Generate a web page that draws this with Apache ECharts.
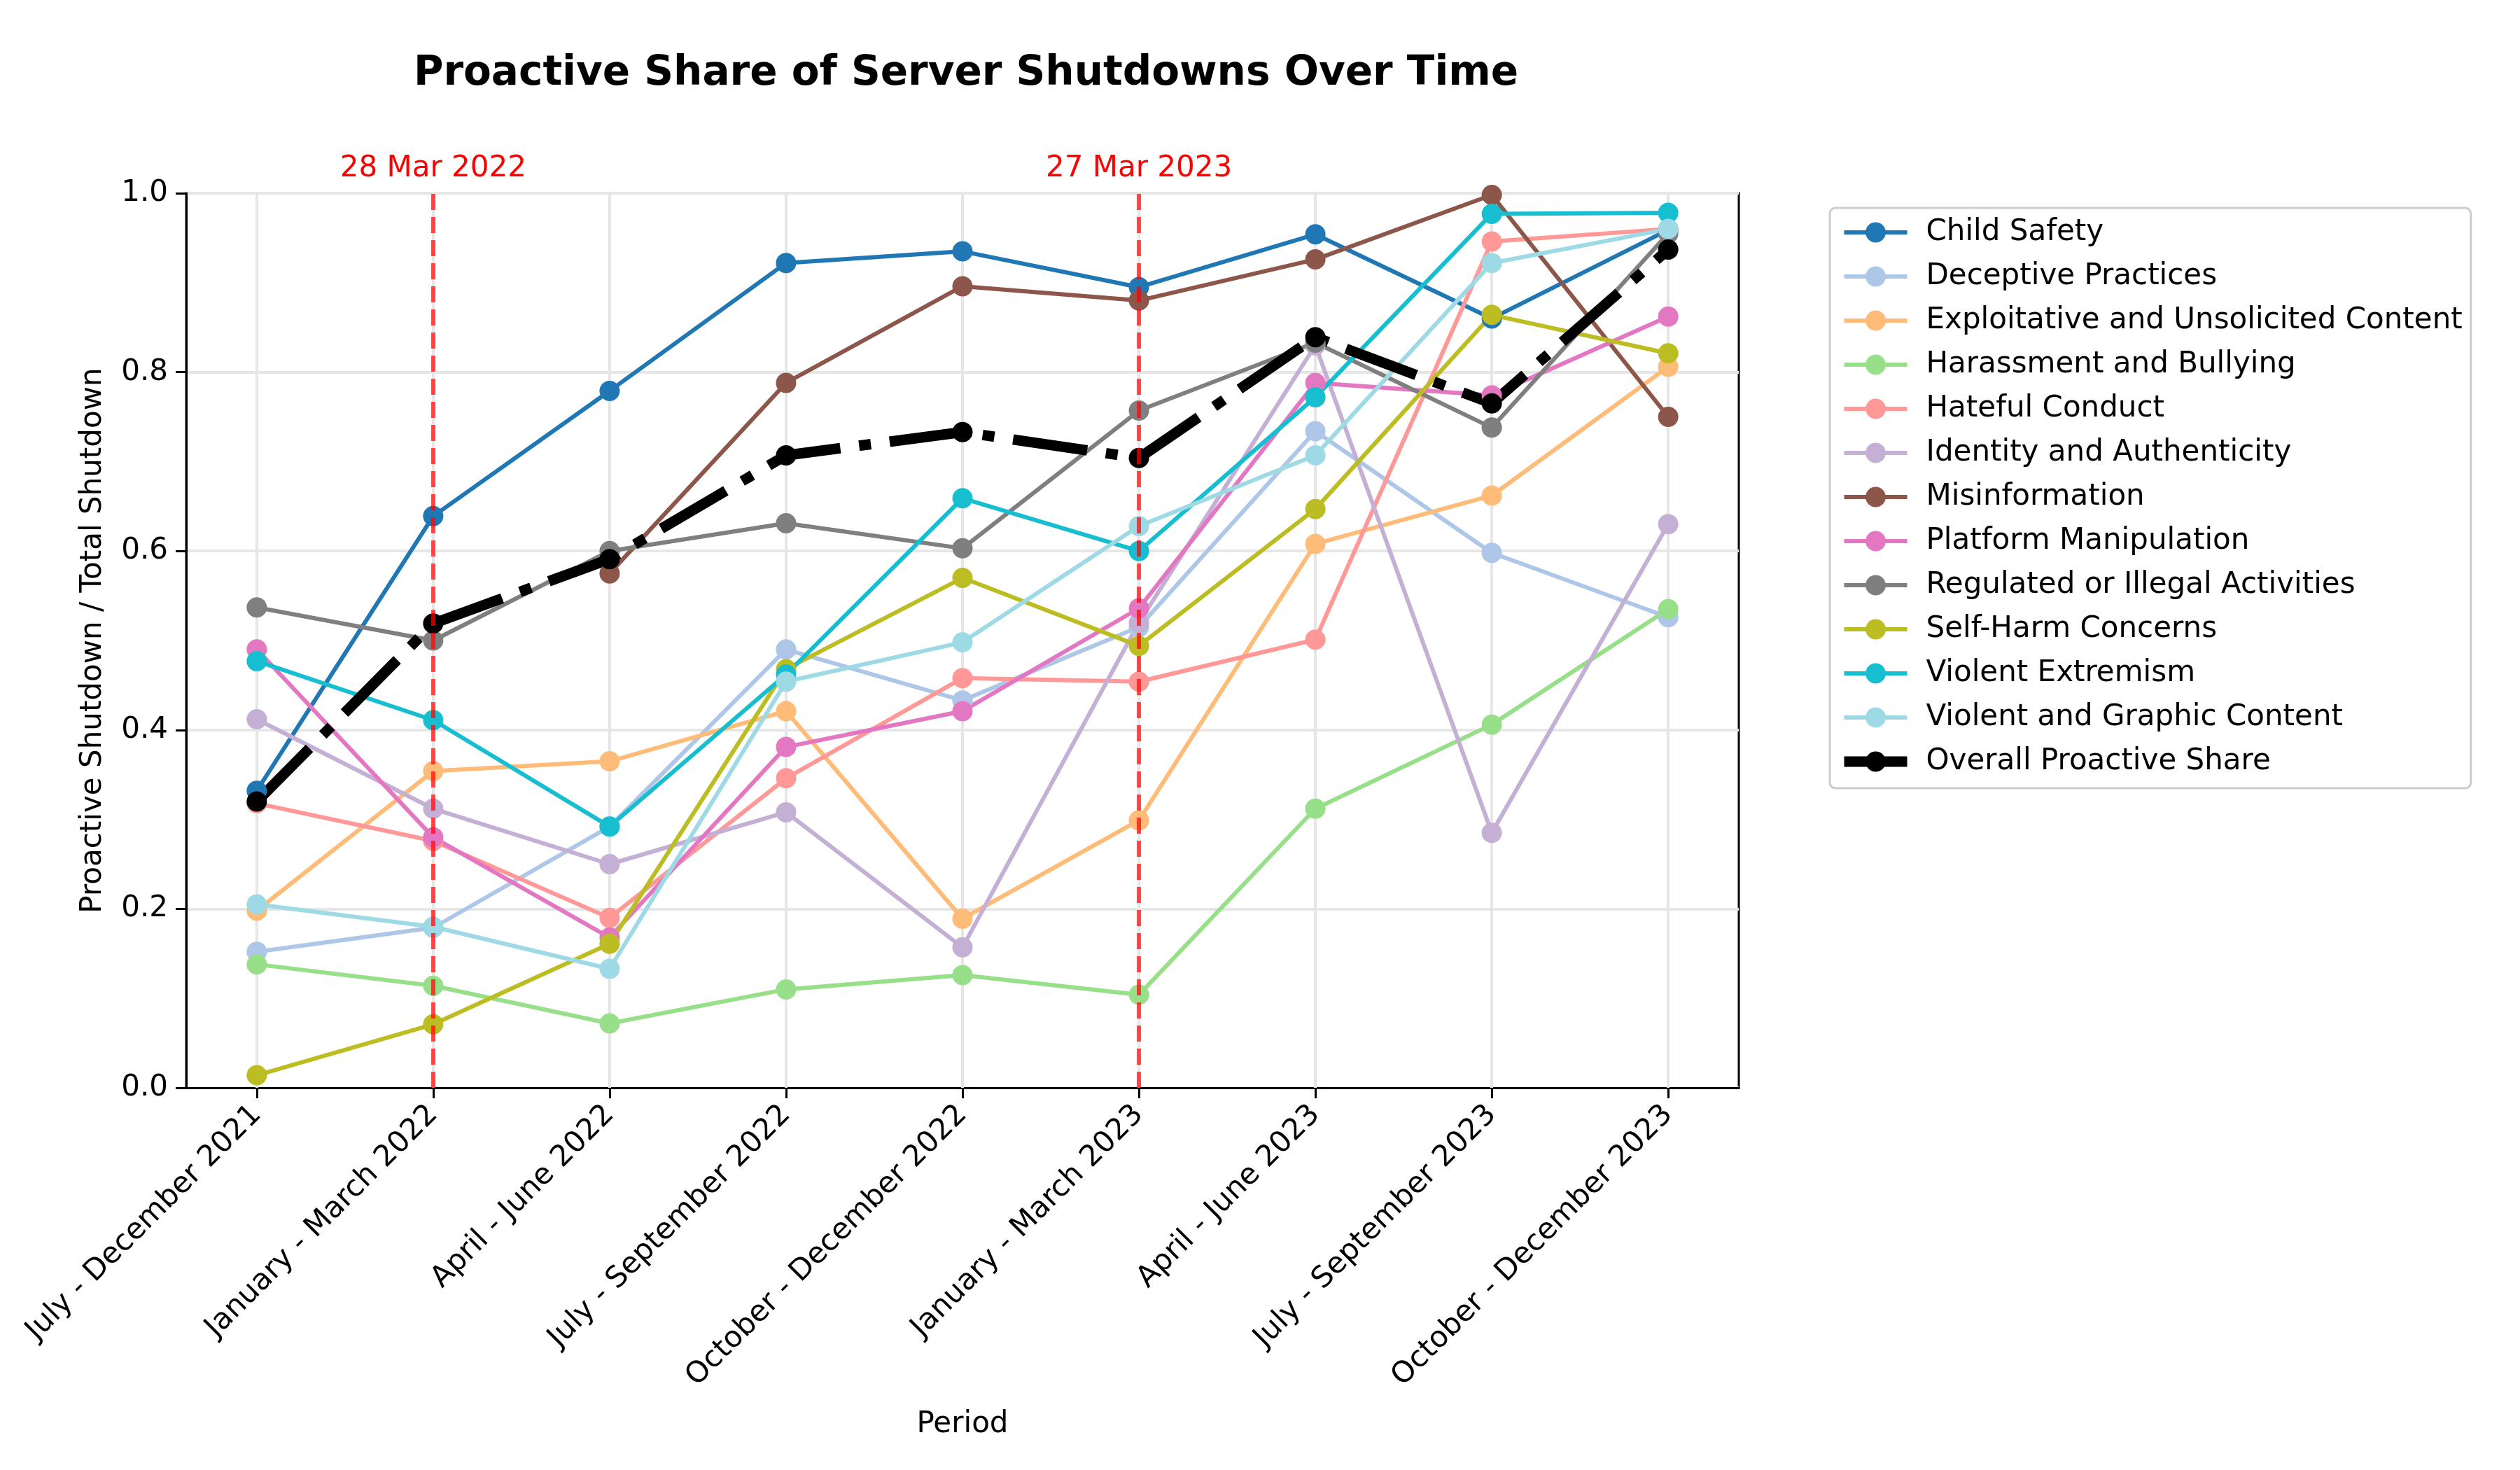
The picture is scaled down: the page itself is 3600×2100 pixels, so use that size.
<!DOCTYPE html>
<html>
<head>
<meta charset="utf-8">
<script src="https://cdn.jsdelivr.net/npm/echarts@6/dist/echarts.min.js"></script>
<style>
  html, body { margin: 0; padding: 0; background: #fff; }
  #chart { width: 3600px; height: 2100px; }
</style>
</head>
<body>
<div id="chart"></div>
<script>
// periods on the x axis
const periods = [
  'July - December 2021', 'January - March 2022', 'April - June 2022',
  'July - September 2022', 'October - December 2022', 'January - March 2023',
  'April - June 2023', 'July - September 2023', 'October - December 2023'
];

// proactive share per category
const childSafety    = [0.332, 0.639, 0.779, 0.922, 0.935, 0.895, 0.954, 0.860, 0.959];
const deceptive      = [0.152, 0.179, 0.292, 0.490, 0.433, 0.515, 0.734, 0.598, 0.526];
const exploitative   = [0.198, 0.354, 0.365, 0.421, 0.189, 0.299, 0.608, 0.662, 0.806];
const harassment     = [0.138, 0.114, 0.072, 0.110, 0.126, 0.104, 0.312, 0.406, 0.535];
const hateful        = [0.318, 0.276, 0.190, 0.346, 0.458, 0.454, 0.501, 0.946, 0.960];
const identity       = [0.412, 0.312, 0.250, 0.308, 0.157, 0.520, 0.830, 0.285, 0.630];
const misinformation = [null, null, 0.575, 0.788, 0.896, 0.880, 0.926, 0.998, 0.750];
const platform       = [0.490, 0.280, 0.168, 0.381, 0.421, 0.536, 0.788, 0.774, 0.862];
const regulated      = [0.537, 0.500, 0.600, 0.631, 0.603, 0.757, 0.833, 0.738, 0.955];
const selfHarm       = [0.014, 0.071, 0.161, 0.468, 0.570, 0.494, 0.647, 0.864, 0.821];
const violentExt     = [0.477, 0.411, 0.292, 0.462, 0.659, 0.600, 0.772, 0.977, 0.978];
const violentGraphic = [0.205, 0.180, 0.133, 0.454, 0.498, 0.628, 0.707, 0.922, 0.960];
const overall        = [0.320, 0.519, 0.591, 0.707, 0.733, 0.704, 0.839, 0.765, 0.937];

// policy change markers
const eventPositions = [1, 5];
const eventLabels = ['28 Mar 2022', '27 Mar 2023'];

const categories = [
  ['Child Safety', childSafety, '#1f77b4'],
  ['Deceptive Practices', deceptive, '#aec7e8'],
  ['Exploitative and Unsolicited Content', exploitative, '#ffbb78'],
  ['Harassment and Bullying', harassment, '#98df8a'],
  ['Hateful Conduct', hateful, '#ff9896'],
  ['Identity and Authenticity', identity, '#c5b0d5'],
  ['Misinformation', misinformation, '#8c564b'],
  ['Platform Manipulation', platform, '#e377c2'],
  ['Regulated or Illegal Activities', regulated, '#7f7f7f'],
  ['Self-Harm Concerns', selfHarm, '#bcbd22'],
  ['Violent Extremism', violentExt, '#17becf'],
  ['Violent and Graphic Content', violentGraphic, '#9edae5']
];

const idx = periods.map((p, i) => i);
const toPoints = arr => arr.map((v, i) => [i, v]);
const FONT = 'DejaVu Sans';

// vertical grid lines at each period (value axis with padded range)
const series = [{
  name: '_grid',
  type: 'line',
  data: [],
  z: 1,
  silent: true,
  markLine: {
    z: 1,
    silent: true,
    symbol: 'none',
    label: { show: false },
    lineStyle: { color: '#e6e6e6', width: 4, type: 'solid' },
    data: idx.map(i => ({ xAxis: i }))
  }
}];

categories.forEach(([name, vals, color], k) => {
  series.push({
    name: name,
    type: 'line',
    data: toPoints(vals),
    connectNulls: false,
    symbol: 'circle',
    symbolSize: 29,
    color: color,
    lineStyle: { width: 6, color: color },
    itemStyle: { color: color },
    emphasis: { disabled: true },
    markLine: k === 0 ? {
      silent: true,
      symbol: 'none',
      lineStyle: { color: 'rgba(255,0,0,0.7)', width: 6, type: [23, 10] },
      label: {
        show: true, position: 'end', distance: 14,
        color: '#ff0000', fontSize: 42, fontFamily: FONT,
        formatter: p => eventLabels[eventPositions.indexOf(p.value)]
      },
      data: eventPositions.map(x => ({ xAxis: x }))
    } : undefined
  });
});

series.push({
  name: 'Overall Proactive Share',
  type: 'line',
  data: toPoints(overall),
  symbol: 'circle',
  symbolSize: 29,
  color: '#000',
  lineStyle: { width: 15, color: '#000', type: [107, 27, 17, 27], cap: 'butt' },
  itemStyle: { color: '#000' },
  emphasis: { disabled: true }
});

const legendData = categories.map(([name, , color]) => ({
  name: name,
  lineStyle: { width: 6, color: color, type: 'solid' }
}));
legendData.push({ name: 'Overall Proactive Share', lineStyle: { width: 15, color: '#000', type: 'solid' } });

const chart = echarts.init(document.getElementById('chart'), null, { renderer: 'canvas' });
chart.setOption({
  animation: false,
  backgroundColor: '#fff',
  textStyle: { fontFamily: FONT },
  title: {
    text: 'Proactive Share of Server Shutdowns Over Time',
    left: 1375,
    textAlign: 'center',
    top: 72,
    textStyle: { fontSize: 58, fontWeight: 'bold', color: '#000', fontFamily: FONT }
  },
  grid: {
    left: 266, right: 1116, top: 276, bottom: 546,
    show: true, borderColor: '#000', borderWidth: 3, backgroundColor: 'transparent'
  },
  legend: {
    orient: 'vertical',
    left: 2614,
    top: 297,
    padding: [11, 12, 14, 13],
    itemWidth: 90,
    itemHeight: 36,
    itemGap: 15,
    borderColor: '#cccccc',
    borderWidth: 3,
    borderRadius: 8,
    textStyle: { fontSize: 42, color: '#000', fontFamily: FONT, lineHeight: 48, padding: [0, 0, 0, 22] },
    data: legendData
  },
  xAxis: {
    type: 'value',
    min: -0.4,
    max: 8.4,
    name: 'Period',
    nameLocation: 'middle',
    nameGap: 460,
    nameTextStyle: { fontSize: 42, color: '#000', fontFamily: FONT },
    axisLine: { show: true, onZero: false, lineStyle: { color: '#000', width: 3 } },
    axisTick: { show: true, inside: false, length: 15, lineStyle: { color: '#000', width: 3 }, customValues: idx },
    axisLabel: {
      customValues: idx,
      rotate: 45,
      margin: 32,
      fontSize: 42,
      color: '#000',
      fontFamily: FONT,
      formatter: v => periods[Math.round(v)]
    },
    splitLine: { show: false }
  },
  yAxis: {
    type: 'value',
    min: 0,
    max: 1,
    interval: 0.2,
    name: 'Proactive Shutdown / Total Shutdown',
    nameLocation: 'middle',
    nameGap: 112,
    nameRotate: 90,
    nameTextStyle: { fontSize: 42, color: '#000', fontFamily: FONT },
    axisLine: { show: true, onZero: false, lineStyle: { color: '#000', width: 3 } },
    axisTick: { show: true, inside: false, length: 15, lineStyle: { color: '#000', width: 3 } },
    axisLabel: { fontSize: 42, color: '#000', margin: 26, fontFamily: FONT, formatter: v => v.toFixed(1) },
    splitLine: { show: true, lineStyle: { color: '#e6e6e6', width: 4 } }
  },
  series: series
});
</script>
</body>
</html>
